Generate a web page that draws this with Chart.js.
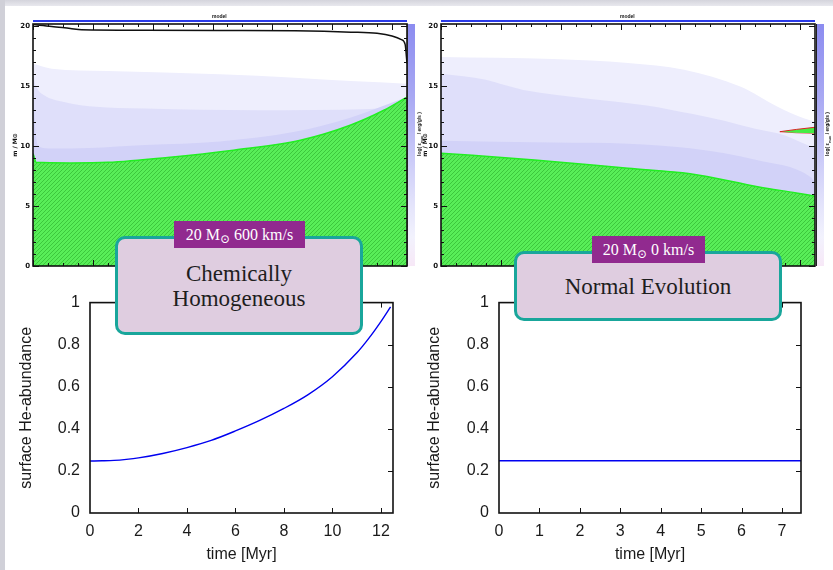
<!DOCTYPE html>
<html>
<head>
<meta charset="utf-8">
<script src="https://cdn.jsdelivr.net/npm/chart.js@4.4.0/dist/chart.umd.min.js"></script>
<style>
html, body { margin: 0; padding: 0; }
body { width: 833px; height: 570px; position: relative; overflow: hidden; background: #fff; font-family: "Liberation Sans", Arial, sans-serif; }
.abs { position: absolute; }
#leftStrip { left: 0; top: 0; width: 5px; height: 570px; background: #d0d0d8; }
#topStrip { left: 0; top: 0; width: 833px; height: 6px; background: linear-gradient(#d4d4dc, #e8e8ee); }
.cbar { top: 24px; width: 7px; height: 242px; background: linear-gradient(#8c8cf0, #a8a8f3 30%, #cacaf8 55%, #e4e4fb 75%, #f2f2fd 88%, #f7e8f7 100%); border-left: 1px solid #222; }
.topline { top: 20px; height: 2px; background: #2a3ae8; }
.tiny { font-size: 5px; font-weight: bold; color: #111; white-space: nowrap; }
.card { box-sizing: border-box; border: 3px solid #19a69b; border-radius: 10px; background: #dfcde0; color: #1e1e1e;
  font-family: "Liberation Serif", "DejaVu Serif", serif; font-size: 23px; line-height: 25px; text-align: center;
  display: flex; align-items: center; justify-content: center; z-index: 5; }
.tag { box-sizing: border-box; background: #912a8f; color: #fff; font-family: "Liberation Serif", "DejaVu Serif", serif;
  font-size: 16px; line-height: 27px; height: 27px; text-align: center; z-index: 6; white-space: nowrap; }
.tag sub { font-size: 12px; vertical-align: -3px; line-height: 0; }
</style>
</head>
<body>
<div class="abs" id="topStrip"></div>
<div class="abs" id="leftStrip"></div>

<div class="abs" style="left:0;top:0;"><canvas id="kippL" width="420" height="280"></canvas></div>
<div class="abs" style="left:418px;top:0;"><canvas id="kippR" width="415" height="280"></canvas></div>
<div class="abs" style="left:0;top:283px;"><canvas id="heL" width="420" height="287"></canvas></div>
<div class="abs" style="left:415px;top:283px;"><canvas id="heR" width="418" height="287"></canvas></div>

<div class="abs topline" style="left:33px;width:374px;"></div>
<div class="abs topline" style="left:441px;width:374px;"></div>
<div class="abs tiny" style="left:212px;top:13px;">model</div>
<div class="abs tiny" style="left:620px;top:13px;">model</div>
<div class="abs cbar" style="left:407px;"></div>
<div class="abs cbar" style="left:816px;"></div>
<div class="abs tiny" style="left:398px;top:130px;transform:rotate(-90deg);">log( ε<sub>nuc</sub> / erg/g/s )</div>
<div class="abs tiny" style="left:806px;top:130px;transform:rotate(-90deg);">log( ε<sub>nuc</sub> / erg/g/s )</div>

<div class="abs card" style="left:115px;top:236px;width:248px;height:99px;">Chemically<br>Homogeneous</div>
<div class="abs tag" style="left:174px;top:221px;width:131px;">20 M<sub>⊙</sub> 600 km/s</div>
<div class="abs card" style="left:514px;top:251px;width:268px;height:70px;">Normal Evolution</div>
<div class="abs tag" style="left:592px;top:236px;width:113px;">20 M<sub>⊙</sub> 0 km/s</div>

<script>
// ---- Kippenhahn, 20 Msun 600 km/s (x = % of the run, m in Msun) ----
var chSurfX  = [0, 5, 10, 13, 30, 50, 70, 85, 92, 96, 98.5, 99.5, 100];
var chSurfM  = [20.15, 20.0, 19.82, 19.72, 19.68, 19.66, 19.63, 19.52, 19.42, 19.2, 18.9, 18.5, 16.9];
var chZone1X = [0, 5, 20, 50, 70, 85, 100];
var chZone1M = [16.9, 16.47, 16.28, 16.0, 15.72, 15.44, 15.22];
var chZone2X = [0, 0.3, 1, 3, 8, 15, 30, 60, 90, 100];
var chZone2M = [16.6, 15.6, 14.9, 14.25, 13.7, 13.33, 13.14, 13.0, 13.1, 13.4];
var chZone3X = [0, 0.6, 1.5, 5, 15, 30, 50, 70, 85, 100];
var chZone3M = [15.2, 11.5, 10.0, 9.8, 9.85, 10.1, 10.4, 11.2, 12.4, 14.1];
var chCoreX  = [0, 0.4, 0.8, 10, 20, 36, 53.6, 71.5, 84.8, 93.8, 100];
var chCoreM  = [9.4, 9.0, 8.65, 8.6, 8.65, 9.06, 9.67, 10.5, 11.75, 13.0, 14.1];

// ---- Kippenhahn, 20 Msun 0 km/s ----
var neZone1X = [0, 30, 50, 65, 80, 90, 97, 100];
var neZone1M = [17.44, 17.27, 16.94, 16.38, 14.98, 13.3, 12.33, 12.05];
var neZone2X = [0, 12, 17, 22, 40, 55, 67, 76, 84, 92, 98, 100];
var neZone2M = [16.04, 15.55, 15.1, 14.7, 13.95, 13.4, 12.7, 12.1, 11.45, 10.9, 10.1, 9.9];
var neZone3X = [0, 30, 50, 66.6, 84.4, 98.7, 100];
var neZone3M = [10.46, 10.3, 10.2, 9.82, 8.85, 7.45, 7.0];
var neCoreX  = [0, 25, 50, 66.6, 85, 95, 100];
var neCoreM  = [9.42, 8.85, 8.15, 7.7, 6.6, 6.1, 5.83];
var neShellX   = [90.6, 95, 100];
var neShellTop = [11.21, 11.4, 11.58];
var neShellBot = [11.21, 11.12, 11.08];

var massTicks = [0, 5, 10, 15, 20];
var massMinor = [1, 2, 3, 4, 6, 7, 8, 9, 11, 12, 13, 14, 16, 17, 18, 19];
var runMajor  = [0, 16, 32, 48, 64, 80, 96];
var runMinor  = [4, 8, 12, 20, 24, 28, 36, 40, 44, 52, 56, 60, 68, 72, 76, 84, 88, 92];

// ---- surface helium ----
var chTime = [0, 0.5, 1, 1.5, 2, 3, 4, 5, 6, 7, 8, 9, 10, 11, 11.5, 12, 12.4];
var chHe   = [0.247, 0.248, 0.25, 0.255, 0.262, 0.283, 0.311, 0.345, 0.39, 0.44, 0.497, 0.563, 0.648, 0.76, 0.83, 0.91, 0.98];
var neTime = [0, 1, 2, 3, 4, 5, 6, 7, 7.47];
var neHe   = [0.248, 0.248, 0.248, 0.248, 0.248, 0.248, 0.248, 0.248, 0.248];
var chTimeTicks = [0, 2, 4, 6, 8, 10, 12];
var neTimeTicks = [0, 1, 2, 3, 4, 5, 6, 7];
var heTicks = [0, 0.2, 0.4, 0.6, 0.8, 1];

function pts(xs, ys) {
  return xs.map(function(x, i) { return { x: x, y: ys[i] }; });
}

var hatch = (function() {
  var c = document.createElement('canvas');
  c.width = 4; c.height = 4;
  var g = c.getContext('2d');
  g.fillStyle = '#58ee58';
  g.fillRect(0, 0, 4, 4);
  g.fillStyle = '#3cc83c';
  for (var i = 0; i < 4; i++) g.fillRect(i, 3 - i, 1, 1);
  return g.createPattern(c, 'repeat');
})();

// frame plus inward tick marks drawn from the scales
var frameTicks = {
  id: 'frameTicks',
  afterDatasetsDraw: function(chart, args, o) {
    var a = chart.chartArea, ctx = chart.ctx, xs = chart.scales.x, ys = chart.scales.y;
    ctx.save();
    ctx.strokeStyle = '#111';
    ctx.lineWidth = 1;
    ctx.beginPath();
    function seg(x1, y1, x2, y2) { ctx.moveTo(x1, y1); ctx.lineTo(x2, y2); }
    function xt(list, len) {
      (list || []).forEach(function(v) {
        var p = Math.round(xs.getPixelForValue(v)) + 0.5;
        if (o.bottom) seg(p, a.bottom, p, a.bottom - len);
        if (o.top) seg(p, a.top, p, a.top + len);
      });
    }
    function yt(list, len) {
      (list || []).forEach(function(v) {
        var p = Math.round(ys.getPixelForValue(v)) + 0.5;
        if (o.left) seg(a.left, p, a.left + len, p);
        if (o.right) seg(a.right, p, a.right - len, p);
      });
    }
    xt(o.xMajor, o.major); xt(o.xMinor, o.minor);
    yt(o.yMajor, o.major); yt(o.yMinor, o.minor);
    ctx.stroke();
    ctx.lineWidth = o.frame;
    ctx.strokeRect(a.left, a.top, a.right - a.left, a.bottom - a.top);
    ctx.restore();
  }
};
Chart.register(frameTicks);

function band(data, color) {
  return { data: data, backgroundColor: color, borderWidth: 0, pointRadius: 0, fill: 'origin', cubicInterpolationMode: 'monotone' };
}

function kipp(id, datasets, yWidth, right, titlePad) {
  return new Chart(id, {
    type: 'line',
    data: { datasets: datasets },
    options: {
      responsive: false, animation: false,
      layout: { padding: { top: 24, right: right, bottom: 14 } },
      plugins: {
        legend: { display: false }, tooltip: { enabled: false },
        frameTicks: { xMajor: runMajor, xMinor: runMinor, yMajor: massTicks, yMinor: massMinor,
          major: 6, minor: 3, frame: 1.6, top: true, bottom: true, left: true, right: true }
      },
      scales: {
        x: { type: 'linear', min: 0, max: 100, display: false },
        y: {
          type: 'linear', min: 0, max: 20.2,
          afterBuildTicks: function(s) { s.ticks = massTicks.map(function(v) { return { value: v }; }); },
          afterFit: function(s) { s.width = yWidth; },
          grid: { display: false, drawTicks: false }, border: { display: false },
          ticks: { padding: 3, color: '#111', font: { family: 'DejaVu Sans', size: 7, weight: 'bold' } },
          title: { display: true, text: 'm / M⊙', color: '#111', padding: { top: titlePad, bottom: 0 },
            font: { family: 'DejaVu Sans', size: 6, weight: 'bold' } }
        }
      }
    }
  });
}

kipp('kippL', [
  { data: pts(chSurfX, chSurfM), borderColor: '#111', borderWidth: 1.5, pointRadius: 0, fill: false, cubicInterpolationMode: 'monotone' },
  { data: pts(chCoreX, chCoreM), backgroundColor: hatch, borderColor: '#22ee22', borderWidth: 1.5, pointRadius: 0, fill: 'origin', cubicInterpolationMode: 'monotone' },
  band(pts(chZone3X, chZone3M), '#d2d2f8'),
  band(pts(chZone2X, chZone2M), '#dfdffa'),
  band(pts(chZone1X, chZone1M), '#eeeefd')
], 33, 13, 12);

kipp('kippR', [
  { data: pts(neShellX, neShellTop), backgroundColor: '#44ee44', borderColor: '#dd2222', borderWidth: 1, pointRadius: 0, fill: 1 },
  { data: pts(neShellX, neShellBot), borderColor: '#dd2222', borderWidth: 0.8, pointRadius: 0, fill: false },
  { data: pts(neCoreX, neCoreM), backgroundColor: hatch, borderColor: '#22ee22', borderWidth: 1.5, pointRadius: 0, fill: 'origin', cubicInterpolationMode: 'monotone' },
  band(pts(neZone3X, neZone3M), '#d2d2f8'),
  band(pts(neZone2X, neZone2M), '#dfdffa'),
  band(pts(neZone1X, neZone1M), '#eeeefd')
], 23, 18, 4);

function heChart(id, time, he, xMax, xTicks, yWidth, right, titlePad) {
  var font = { family: '"Liberation Sans", Arial, sans-serif', size: 16 };
  return new Chart(id, {
    type: 'line',
    data: { datasets: [{ data: pts(time, he), borderColor: '#0000f0', borderWidth: 1.4, pointRadius: 0, fill: false, cubicInterpolationMode: 'monotone' }] },
    options: {
      responsive: false, animation: false,
      layout: { padding: { top: 14, right: right } },
      plugins: {
        legend: { display: false }, tooltip: { enabled: false },
        frameTicks: { xMajor: xTicks.slice(1), yMajor: heTicks.slice(1, -1), major: 5, minor: 0, frame: 1.6,
          top: true, bottom: true, left: false, right: true }
      },
      scales: {
        x: {
          type: 'linear', min: 0, max: xMax,
          afterBuildTicks: function(s) { s.ticks = xTicks.map(function(v) { return { value: v }; }); },
          afterFit: function(s) { s.height = 57; },
          grid: { display: false, drawTicks: false }, border: { display: false },
          ticks: { padding: 9, color: '#1a1a1a', font: font, maxRotation: 0 },
          title: { display: true, text: 'time [Myr]', color: '#1a1a1a', font: font, padding: { top: 0, bottom: 6 } }
        },
        y: {
          type: 'linear', min: 0, max: 1,
          afterBuildTicks: function(s) { s.ticks = heTicks.map(function(v) { return { value: v }; }); },
          afterFit: function(s) { s.width = yWidth; },
          grid: { display: false, drawTicks: false }, border: { display: false },
          ticks: { padding: 10, color: '#1a1a1a', font: font, callback: function(v) { return String(v); } },
          title: { display: true, text: 'surface He-abundance', color: '#1a1a1a', font: font, padding: { top: titlePad, bottom: 0 } }
        }
      }
    }
  });
}

heChart('heL', chTime, chHe, 12.5, chTimeTicks, 90, 27, 17);
heChart('heR', neTime, neHe, 7.47, neTimeTicks, 84, 32, 10);
</script>
</body>
</html>
